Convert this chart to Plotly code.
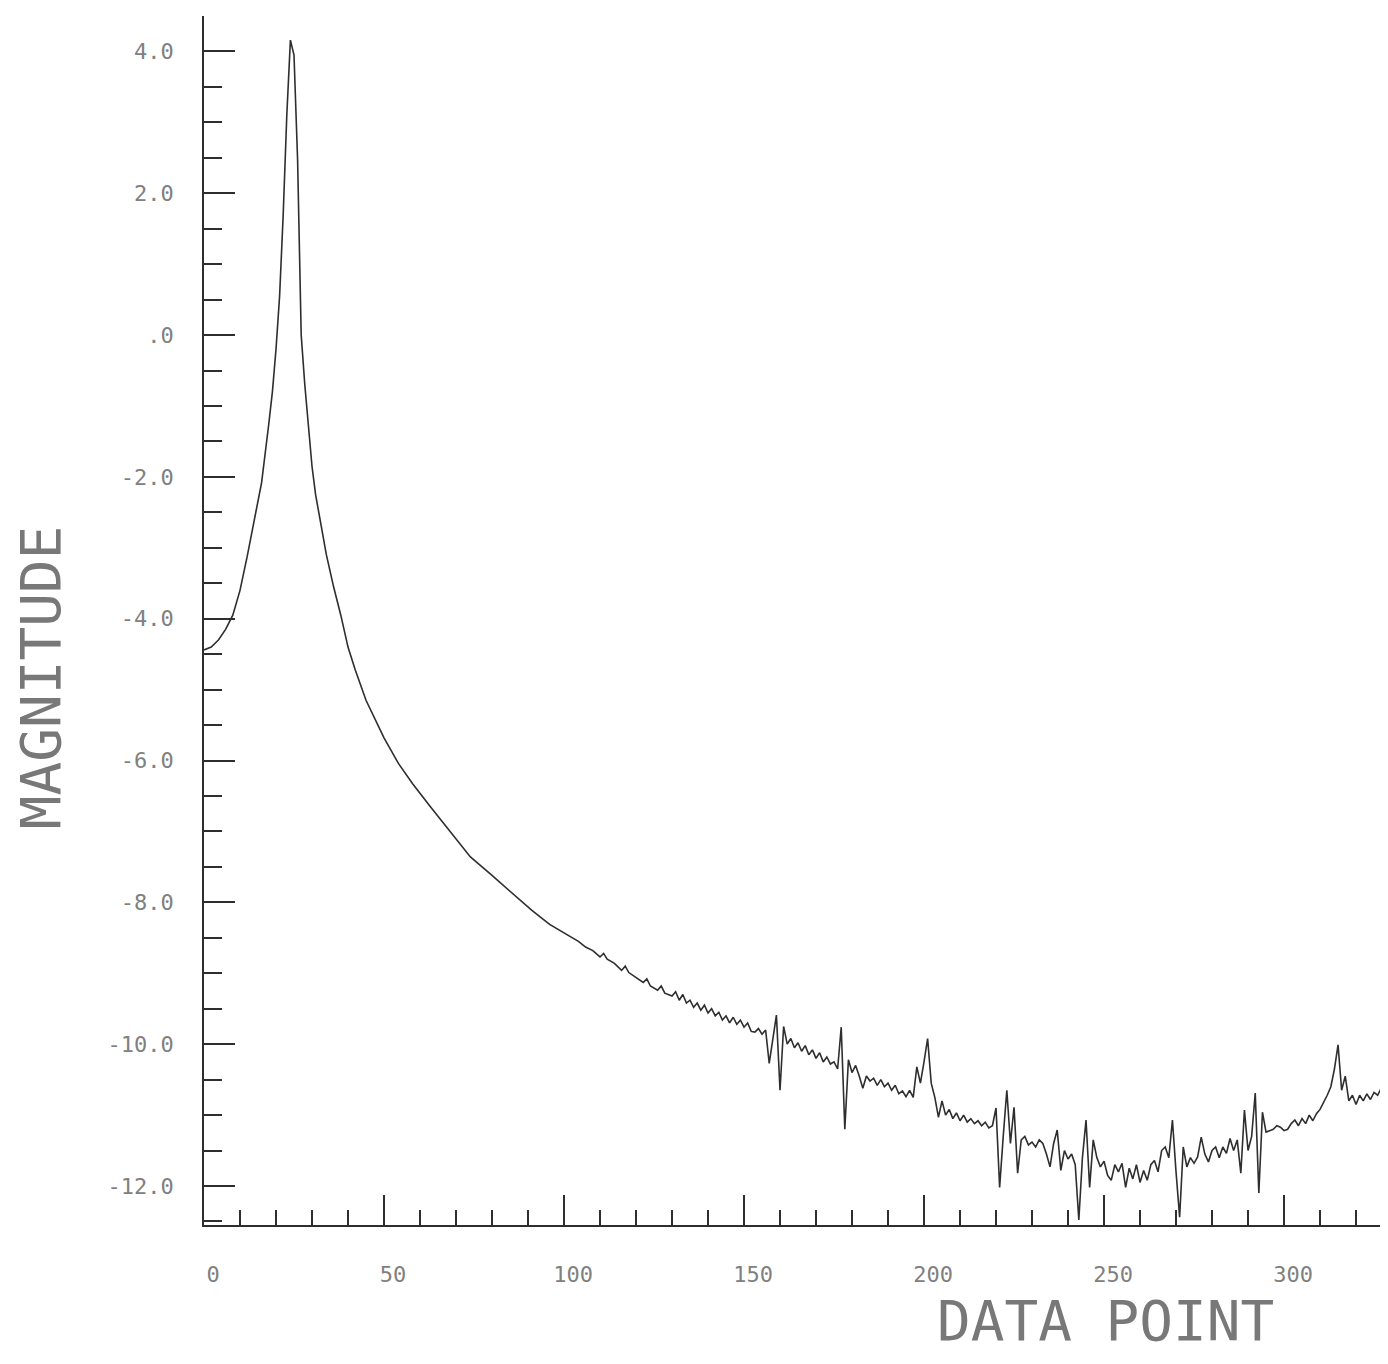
import plotly.graph_objects as go

# ---- data (data point index, magnitude) ----
x_smooth = [0, 2, 4, 6, 8, 10, 12, 14, 16, 18, 19, 20, 21, 22, 23, 24, 25, 26, 27, 28, 29,
            30, 31, 32, 34, 36, 38, 40, 42, 45, 48, 50, 54, 58, 63, 68, 74, 80, 86, 91, 96,
            100, 104, 106, 108, 110, 111, 112, 114, 116, 117, 118, 120, 122, 123, 124, 126,
            127, 128, 130, 131, 132, 133, 134, 135, 136, 137, 138, 139, 140, 141, 142, 143,
            144, 145, 146, 147, 148, 149, 150, 151, 152]
y_smooth = [-4.44, -4.40, -4.30, -4.15, -3.95, -3.60, -3.12, -2.62, -2.08, -1.25, -0.80,
            -0.20, 0.55, 1.70, 3.10, 4.16, 3.95, 2.47, 0.00, -0.70, -1.30,
            -1.85, -2.25, -2.55, -3.10, -3.55, -3.95, -4.40, -4.72, -5.15, -5.48, -5.68,
            -6.04, -6.33, -6.66, -6.98, -7.36, -7.62, -7.89, -8.11, -8.31,
            -8.43, -8.55, -8.63, -8.68, -8.77, -8.72, -8.80, -8.86, -8.96, -8.90, -8.99,
            -9.06, -9.13, -9.08, -9.18, -9.24, -9.18, -9.28, -9.32, -9.26, -9.38, -9.30,
            -9.42, -9.38, -9.48, -9.42, -9.52, -9.45, -9.56, -9.50, -9.60, -9.55, -9.66,
            -9.60, -9.70, -9.62, -9.72, -9.66, -9.76, -9.70, -9.82]

x_noisy = list(range(153, 331))
y_noisy = [-9.83, -9.78, -9.86, -9.80, -10.27, -9.95, -9.59, -10.65, -9.75, -10.00,
           -9.92, -10.05, -9.98, -10.10, -10.02, -10.15, -10.08, -10.20, -10.12, -10.25,
           -10.18, -10.28, -10.25, -10.35, -9.76, -11.20, -10.22, -10.40, -10.30, -10.45,
           -10.62, -10.45, -10.52, -10.48, -10.58, -10.50, -10.60, -10.55, -10.65, -10.58,
           -10.70, -10.66, -10.74, -10.65, -10.75, -10.32, -10.55, -10.25, -9.92, -10.55,
           -10.75, -11.03, -10.80, -11.00, -10.92, -11.05, -10.97, -11.08, -11.00, -11.10,
           -11.05, -11.12, -11.08, -11.15, -11.10, -11.18, -11.15, -10.90, -12.02, -11.30,
           -10.65, -11.40, -10.89, -11.82, -11.35, -11.30, -11.42, -11.38, -11.45, -11.35,
           -11.40, -11.55, -11.73, -11.40, -11.21, -11.78, -11.50, -11.62, -11.55, -11.70,
           -12.48, -11.60, -11.07, -12.02, -11.35, -11.60, -11.73, -11.65, -11.85, -11.92,
           -11.70, -11.80, -11.68, -12.02, -11.75, -11.90, -11.70, -11.95, -11.78, -11.92,
           -11.70, -11.64, -11.80, -11.50, -11.45, -11.60, -11.07, -11.80, -12.44, -11.45,
           -11.73, -11.60, -11.68, -11.59, -11.31, -11.55, -11.66, -11.50, -11.45, -11.60,
           -11.45, -11.54, -11.33, -11.50, -11.35, -11.82, -10.93, -11.50, -11.30, -10.69,
           -12.10, -10.96, -11.24, -11.22, -11.20, -11.15, -11.17, -11.22, -11.20, -11.12,
           -11.07, -11.15, -11.05, -11.12, -11.00, -11.08, -10.98, -10.92, -10.83, -10.72,
           -10.60, -10.35, -10.01, -10.65, -10.45, -10.80, -10.72, -10.85, -10.72, -10.80,
           -10.70, -10.78, -10.68, -10.72, -10.62, -10.65, -10.58, -10.66]

x_tick_vals = [0, 50, 100, 150, 200, 250, 300]
x_tick_text = ["0", "50", "100", "150", "200", "250", "300"]
y_tick_vals = [4, 2, 0, -2, -4, -6, -8, -10, -12]
y_tick_text = ["4.0", "2.0", ".0", "-2.0", "-4.0", "-6.0", "-8.0", "-10.0", "-12.0"]

x_all = x_smooth + x_noisy
y_all = y_smooth + y_noisy

INK = "#2e2e2e"
LABEL = "#808080"
TITLE = "#787878"
FONT = "DejaVu Sans Mono"

fig = go.Figure()
fig.add_trace(go.Scatter(x=x_all, y=y_all, mode="lines",
                         line=dict(color=INK, width=1.6), showlegend=False,
                         hoverinfo="skip"))

fig.update_layout(
    width=1388, height=1364,
    paper_bgcolor="white", plot_bgcolor="white",
    margin=dict(l=196, r=0, t=8, b=147),
    xaxis=dict(range=[0, 331.1], showgrid=False, zeroline=False,
               showline=True, linecolor=INK, linewidth=1.5,
               tickvals=x_tick_vals, ticktext=x_tick_text,
               ticks="inside", ticklen=30, tickwidth=1.5, tickcolor=INK,
               minor=dict(dtick=10, tick0=0, ticks="inside", ticklen=15,
                          tickwidth=1.5, tickcolor=INK, showgrid=False),
               tickfont=dict(family=FONT, size=22, color=LABEL),
               ticklabelstandoff=29, ticklabelshift=9),
    yaxis=dict(range=[-12.55, 4.5], showgrid=False, zeroline=False,
               showline=True, linecolor=INK, linewidth=1.5,
               tickvals=y_tick_vals, ticktext=y_tick_text,
               ticks="inside", ticklen=31, tickwidth=1.5, tickcolor=INK,
               minor=dict(dtick=0.5, tick0=0, ticks="inside", ticklen=18,
                          tickwidth=1.5, tickcolor=INK, showgrid=False),
               tickfont=dict(family=FONT, size=22, color=LABEL),
               ticklabelstandoff=24),
    annotations=[
        dict(text="MAGNITUDE", xref="paper", yref="paper", x=-0.1375, y=0.4524,
             xanchor="center", yanchor="middle", textangle=-90, showarrow=False,
             font=dict(family=FONT, size=56, color=TITLE)),
        dict(text="DATA POINT", xref="paper", yref="paper", x=0.756, y=-0.0786,
             xanchor="center", yanchor="middle", showarrow=False,
             font=dict(family=FONT, size=56, color=TITLE)),
    ],
)

fig.write_html("out.html")
